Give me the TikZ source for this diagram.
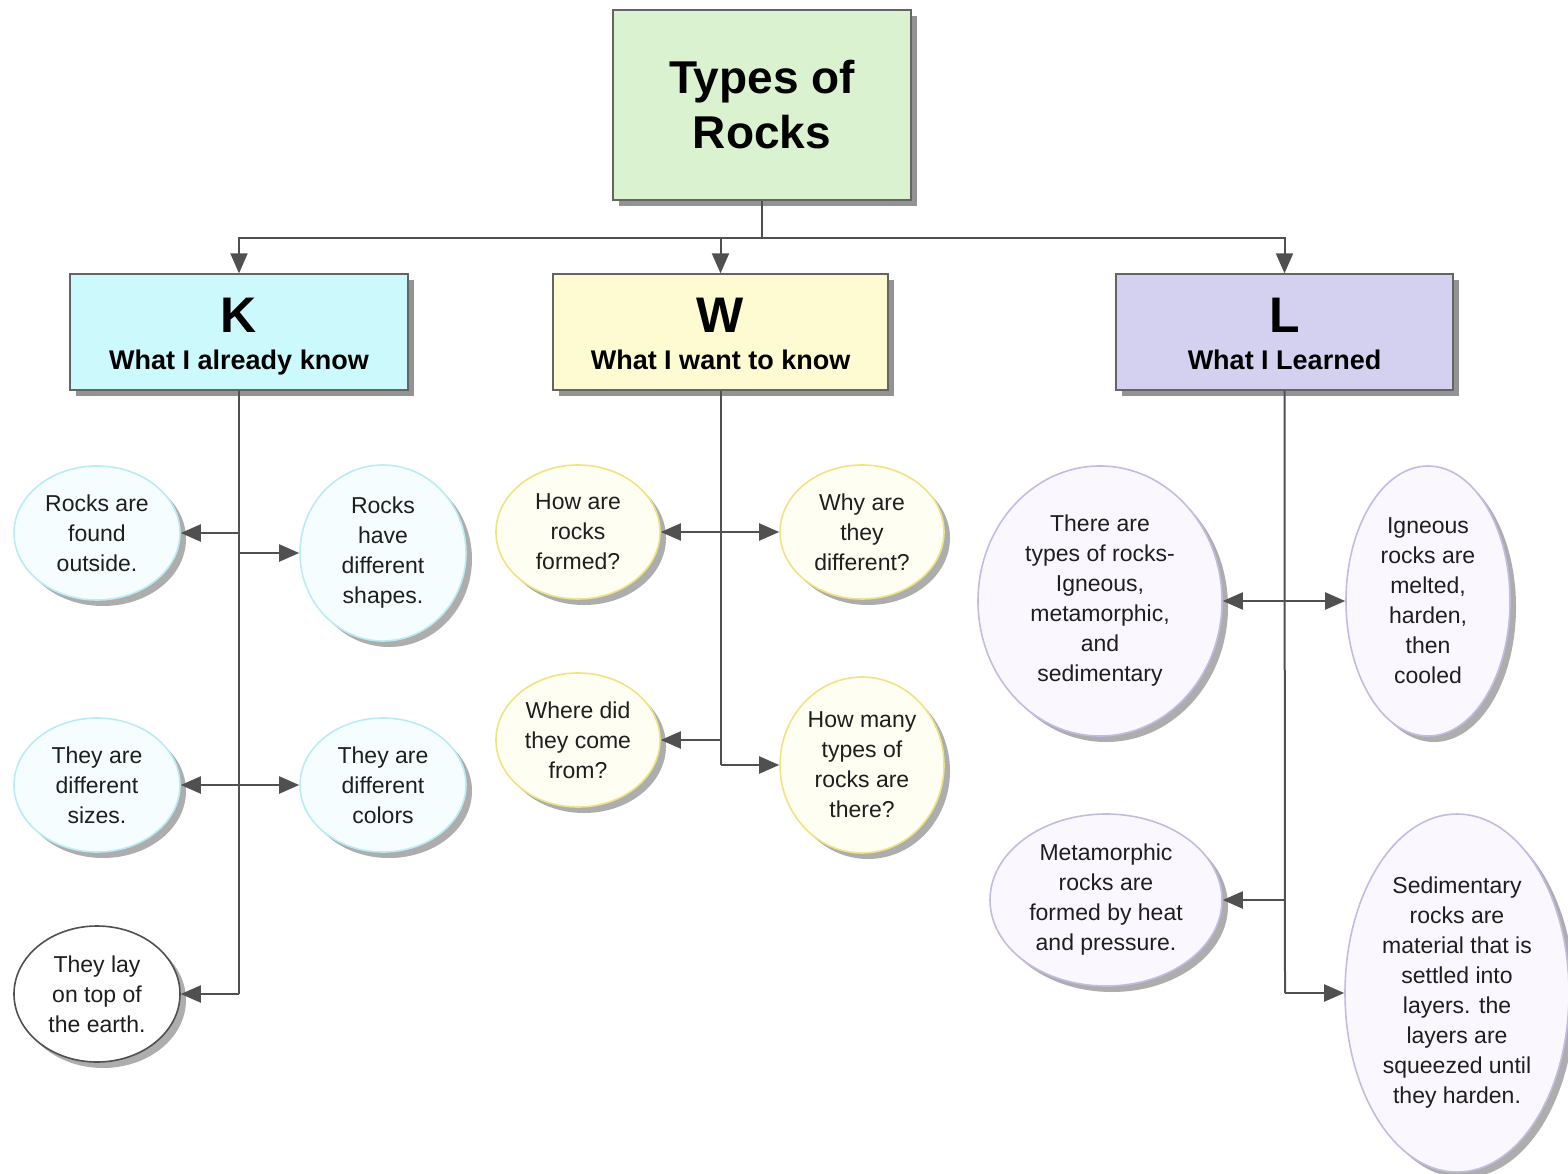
\documentclass[tikz,border=0pt]{standalone}
\usepackage{fontspec}
\setmainfont{Liberation Sans}
\usetikzlibrary{shapes.geometric,arrows.meta,shadows}
\definecolor{titlefill}{RGB}{218,242,207}
\definecolor{kfill}{RGB}{204,249,252}
\definecolor{wfill}{RGB}{254,251,210}
\definecolor{lfill}{RGB}{212,209,240}
\definecolor{boxborder}{RGB}{100,100,100}
\definecolor{linecol}{RGB}{80,80,80}
\definecolor{kborder}{RGB}{185,236,244}
\definecolor{wborder}{RGB}{240,228,130}
\definecolor{lborder}{RGB}{196,186,228}
\definecolor{kbfill}{RGB}{246,253,254}
\definecolor{wbfill}{RGB}{255,254,242}
\definecolor{lbfill}{RGB}{250,248,254}
\definecolor{textcol}{RGB}{30,30,30}
\newcommand{\hdtop}{\rule{0pt}{44pt}}
\newcommand{\hdbot}{\rule[-7pt]{0pt}{7pt}}
\begin{document}
\begin{tikzpicture}[x=1pt,y=-1pt,
  box/.style={draw=boxborder, line width=1.3pt, align=center, inner sep=0pt,
    drop shadow={shadow xshift=6pt, shadow yshift=-6pt, fill=gray!85, opacity=1}},
  head/.style={font=\fontsize{27}{37}\selectfont\bfseries},
  bubble/.style={ellipse, inner sep=0pt, align=center, text=textcol,
    font=\fontsize{23}{30}\selectfont, line width=1.6pt,
    drop shadow={shadow xshift=6pt, shadow yshift=-6pt, fill=gray!80, opacity=0.8}},
  kb/.style={bubble, draw=kborder, fill=kbfill},
  wb/.style={bubble, draw=wborder, fill=wbfill},
  lb/.style={bubble, draw=lborder, fill=lbfill},
  ln/.style={draw=linecol, line width=2pt},
  arr/.style={draw=linecol, line width=2pt, -{Triangle[length=20pt,width=17pt]}}
]
\useasboundingbox (0,0) rectangle (1568,1174);
\fill[white] (0,0) rectangle (1568,1174);

% title and headers
\node[box, fill=titlefill, minimum width=298pt, minimum height=190pt,
  font=\fontsize{46}{55}\selectfont\bfseries] (T) at (762,105) {Types of\\Rocks};
\node[box, head, fill=kfill, minimum width=338pt, minimum height=116pt] (K) at (239,332)
  {\hdtop{\fontsize{50}{37}\selectfont K}\\What I already know\hdbot};
\node[box, head, fill=wfill, minimum width=335pt, minimum height=116pt] (W) at (720.5,332)
  {\hdtop{\fontsize{50}{37}\selectfont W}\\What I want to know\hdbot};
\node[box, head, fill=lfill, minimum width=337pt, minimum height=116pt] (L) at (1284.5,332)
  {\hdtop{\fontsize{50}{37}\selectfont L}\\What I Learned\hdbot};

\coordinate (bus) at (762,238);
\draw[ln] (T.south) -- (bus);
\draw[arr] (bus) -| (K.north);
\draw[arr] (bus) -| (W.north);
\draw[arr] (bus) -| (L.north);

% K column
\node[kb, minimum width=166pt, minimum height=134pt] (k1) at (97,533) {Rocks are\\found\\outside.};
\node[kb, minimum width=166pt, minimum height=176pt] (k2) at (383,553) {Rocks\\have\\different\\shapes.};
\node[kb, minimum width=166pt, minimum height=134pt] (k3) at (97,785) {They are\\different\\sizes.};
\node[kb, minimum width=166pt, minimum height=134pt] (k4) at (383,785) {They are\\different\\colors};
\node[bubble, draw=linecol, fill=white, minimum width=166pt, minimum height=136pt] (k5) at (97,994) {They lay\\on top of\\the earth.};

\coordinate (kt1) at (239,533);
\coordinate (kt2) at (239,553);
\coordinate (kt3) at (239,785);
\coordinate (kend) at (239,994);
\draw[ln] (K.south) -- (kend);
\draw[arr] (kt1) -- (kt1 -| k1.east);
\draw[arr] (kt2) -- (kt2 -| k2.west);
\draw[arr] (kt3) -- (kt3 -| k3.east);
\draw[arr] (kt3) -- (kt3 -| k4.west);
\draw[arr] (kend) -- (kend -| k5.east);

% W column
\node[wb, minimum width=164pt, minimum height=134pt] (w1) at (578,532) {How are\\rocks\\formed?};
\node[wb, minimum width=164pt, minimum height=134pt] (w2) at (862,532) {Why are\\they\\different?};
\node[wb, minimum width=164pt, minimum height=134pt] (w3) at (578,740) {Where did\\they come\\from?};
\node[wb, minimum width=164pt, minimum height=176pt] (w4) at (862,765) {How many\\types of\\rocks are\\there?};

\coordinate (wt1) at (720.5,532);
\coordinate (wt2) at (720.5,740);
\coordinate (wend) at (720.5,765);
\draw[ln] (W.south) -- (wend);
\draw[arr] (wt1) -- (wt1 -| w1.east);
\draw[arr] (wt1) -- (wt1 -| w2.west);
\draw[arr] (wt2) -- (wt2 -| w3.east);
\draw[arr] (wend) -- (wend -| w4.west);

% L column
\node[lb, minimum width=244pt, minimum height=270pt] (l1) at (1100,601) {There are\\types of rocks-\\Igneous,\\metamorphic,\\and\\sedimentary};
\node[lb, minimum width=164pt, minimum height=270pt] (l2) at (1428,601) {Igneous\\rocks are\\melted,\\harden,\\then\\cooled};
\node[lb, minimum width=232pt, minimum height=172pt] (l3) at (1106,900) {Metamorphic\\rocks are\\formed by heat\\and pressure.};
\node[lb, minimum width=224pt, minimum height=358pt] (l4) at (1457,993) {Sedimentary\\rocks are\\material that is\\settled into\\layers. the\\layers are\\squeezed until\\they harden.};

\coordinate (lt1) at (1285,601);
\coordinate (lt2) at (1285,900);
\coordinate (lend) at (1285,993);
\draw[ln] (L.south) -- (lend);
\draw[arr] (lt1) -- (lt1 -| l1.east);
\draw[arr] (lt1) -- (lt1 -| l2.west);
\draw[arr] (lt2) -- (lt2 -| l3.east);
\draw[arr] (lend) -- (lend -| l4.west);
\end{tikzpicture}
\end{document}
